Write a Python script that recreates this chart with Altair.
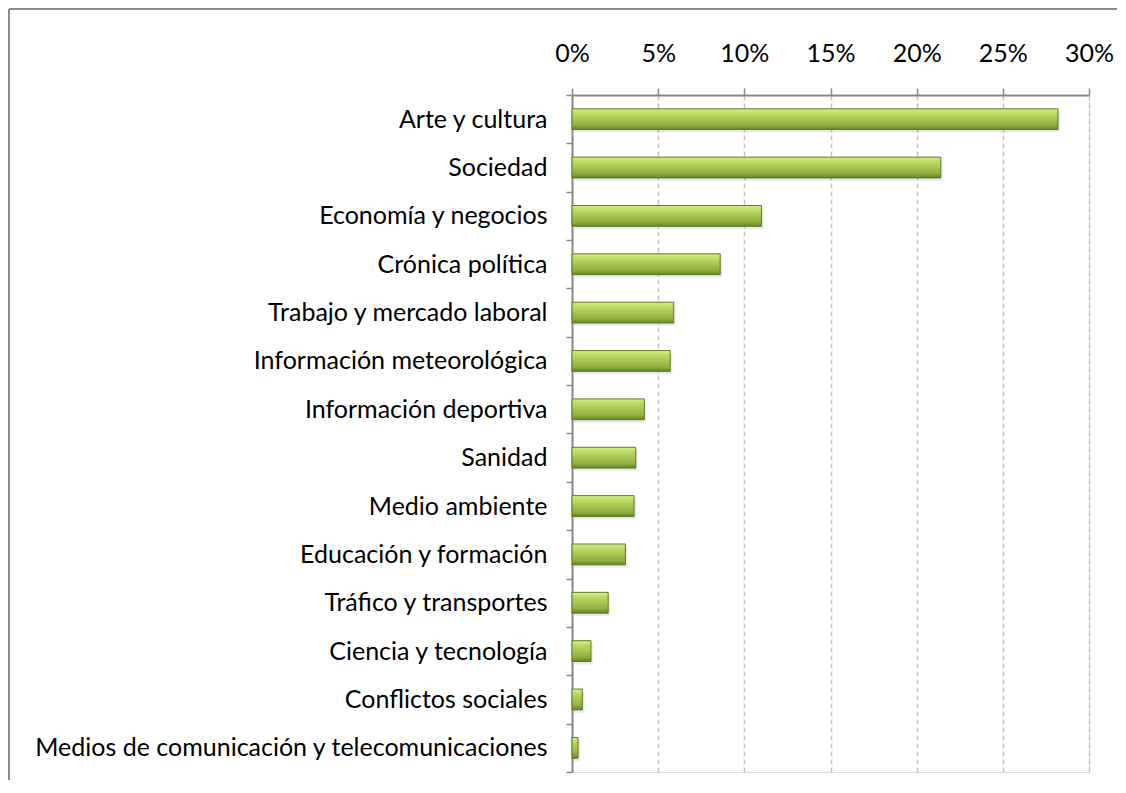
import altair as alt
import pandas as pd

categories = [
    "Arte y cultura",
    "Sociedad",
    "Economía y negocios",
    "Crónica política",
    "Trabajo y mercado laboral",
    "Información meteorológica",
    "Información deportiva",
    "Sanidad",
    "Medio ambiente",
    "Educación y formación",
    "Tráfico y transportes",
    "Ciencia y tecnología",
    "Conflictos sociales",
    "Medios de comunicación y telecomunicaciones",
]
values = [28.2, 21.4, 11.0, 8.6, 5.9, 5.7, 4.2, 3.7, 3.6, 3.1, 2.1, 1.1, 0.6, 0.35]
x_ticks = [0, 5, 10, 15, 20, 25, 30]

df = pd.DataFrame({"tema": categories, "pct": [v / 100 for v in values]})

W, H = 517, 677
FONT = "Lato"
FS = 25

x_enc = alt.X(
    "pct:Q",
    scale=alt.Scale(domain=[0, 0.3], nice=False),
    axis=alt.Axis(
        orient="top",
        format=".0%",
        values=[t / 100 for t in x_ticks],
        title=None,
        grid=True,
        gridDash=[5, 3],
        gridColor="#c4c4c4",
        gridWidth=1.5,
        domainColor="#8a8a8a",
        domainWidth=2,
        tickColor="#8a8a8a",
        tickWidth=1.5,
        tickSize=7,
        labelPadding=22,
        labelFlush=False,
        labelFont=FONT,
        labelFontSize=FS,
        labelColor="#000000",
    ),
)
y_enc = alt.Y(
    "tema:N",
    sort=categories,
    scale=alt.Scale(paddingInner=0, paddingOuter=0),
    axis=alt.Axis(
        title=None,
        tickBand="extent",
        domainColor="#8a8a8a",
        domainWidth=2,
        tickColor="#8a8a8a",
        tickWidth=1.5,
        tickSize=6,
        labelPadding=19,
        labelFont=FONT,
        labelFontSize=FS,
        labelColor="#000000",
        labelLimit=0,
    ),
)

base = alt.Chart(df)

shadow = base.mark_bar(
    color="#000000", opacity=0.08, xOffset=2, yOffset=3,
    height=alt.RelativeBandSize(band=0.43),
).encode(x=x_enc, y=y_enc)

bars = base.mark_bar(
    height=alt.RelativeBandSize(band=0.43),
    color=alt.Gradient(
        gradient="linear",
        x1=0, x2=0, y1=0, y2=1,
        stops=[
            alt.GradientStop(color="#d8ef92", offset=0),
            alt.GradientStop(color="#c0de68", offset=0.18),
            alt.GradientStop(color="#a6c652", offset=0.5),
            alt.GradientStop(color="#8eae3f", offset=0.8),
            alt.GradientStop(color="#63822a", offset=1),
        ],
    ),
    stroke="#5c7a24",
    strokeWidth=1,
).encode(x=x_enc, y=y_enc)

frame_df = pd.DataFrame({"k": [0]})
top_line = alt.Chart(frame_df).mark_rule(color="#8a8a8a", strokeWidth=2).encode(
    x=alt.value(-563), x2=alt.value(W + 28), y=alt.value(-86)
)
left_line = alt.Chart(frame_df).mark_rule(color="#8a8a8a", strokeWidth=2).encode(
    x=alt.value(-563), y=alt.value(-86), y2=alt.value(H + 8)
)

chart = (
    alt.layer(top_line, left_line, shadow, bars)
    .properties(width=W, height=H, padding=0)
    .configure_view(stroke=None)
    .configure(background="#ffffff")
)

chart.save("out.html", embed_options={"renderer": "svg", "actions": False})
